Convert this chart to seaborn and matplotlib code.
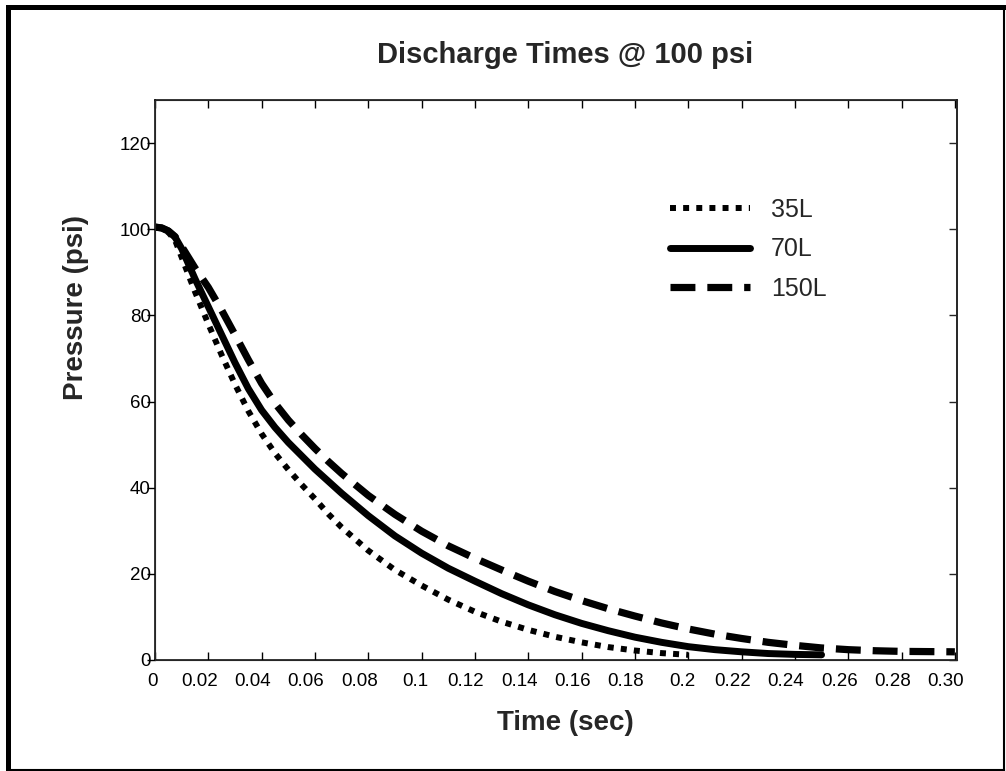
import matplotlib
matplotlib.use("Agg")
import matplotlib.pyplot as plt
from matplotlib.lines import Line2D
from matplotlib.transforms import ScaledTranslation
import pandas as pd
import seaborn as sns

# discharge curves (time in sec, pressure in psi)
t_35 = [0, 0.0025, 0.005, 0.0075, 0.01, 0.015, 0.02, 0.025, 0.03, 0.035, 0.04,
        0.045, 0.05, 0.055, 0.06, 0.065, 0.07, 0.08, 0.09, 0.10, 0.11, 0.12,
        0.13, 0.14, 0.15, 0.16, 0.17, 0.18, 0.19, 0.20]
p_35 = [100.5, 100.2, 99.3, 97.5, 93.5, 85.5, 78, 70.8, 64, 57.8, 52.5,
        48, 44.2, 40.7, 37.4, 33.9, 30.8, 25.4, 20.9, 17.3, 14.0, 11.2,
        8.9, 7.0, 5.4, 4.1, 3.0, 2.2, 1.6, 1.2]

t_70 = [0, 0.0025, 0.005, 0.0075, 0.01, 0.015, 0.02, 0.025, 0.03, 0.035, 0.04,
        0.045, 0.05, 0.055, 0.06, 0.065, 0.07, 0.08, 0.09, 0.10, 0.11, 0.12,
        0.13, 0.14, 0.15, 0.16, 0.17, 0.18, 0.19, 0.20, 0.21, 0.22, 0.23,
        0.24, 0.25]
p_70 = [100.5, 100.3, 99.6, 98.2, 95.5, 88.5, 82, 75.5, 69, 63, 58,
        54, 50.5, 47.4, 44.3, 41.5, 38.7, 33.5, 28.8, 24.8, 21.3, 18.3,
        15.4, 12.8, 10.5, 8.5, 6.8, 5.3, 4.1, 3.1, 2.4, 1.9, 1.5,
        1.3, 1.2]

t_150 = [0, 0.0025, 0.005, 0.0075, 0.01, 0.015, 0.02, 0.025, 0.03, 0.035, 0.04,
         0.045, 0.05, 0.055, 0.06, 0.065, 0.07, 0.08, 0.09, 0.10, 0.11, 0.12,
         0.13, 0.14, 0.15, 0.16, 0.17, 0.18, 0.19, 0.20, 0.21, 0.22, 0.23,
         0.24, 0.25, 0.26, 0.27, 0.28, 0.29, 0.30]
p_150 = [100.5, 100.3, 99.6, 98.3, 96, 91, 86.5, 81.2, 75.5, 69.7, 64.2,
         59.6, 55.7, 52.3, 49.1, 46.1, 43.3, 38.2, 33.8, 29.9, 26.5, 23.6,
         20.9, 18.3, 15.9, 13.8, 11.9, 10.2, 8.6, 7.2, 6.0, 5.0, 4.1,
         3.4, 2.8, 2.4, 2.15, 2.0, 1.95, 1.9]

x_ticks = [0, 0.02, 0.04, 0.06, 0.08, 0.10, 0.12, 0.14, 0.16, 0.18, 0.20,
           0.22, 0.24, 0.26, 0.28, 0.30]
x_labels = ["0", "0.02", "0.04", "0.06", "0.08", "0.1", "0.12", "0.14", "0.16",
            "0.18", "0.2", "0.22", "0.24", "0.26", "0.28", "0.30"]
y_ticks = [0, 20, 40, 60, 80, 100, 120]

sns.set_style("ticks")
plt.rcParams["font.family"] = ["Liberation Sans", "DejaVu Sans"]

W, H = 1006, 771
fig = plt.figure(figsize=(W / 100, H / 100), dpi=100)
ax = fig.add_axes([155 / W, 1 - 660 / H, (957 - 155) / W, (660 - 100) / H])

series = [
    ("35L", t_35, p_35, 4.3, (0, (1.0, 1.2))),
    ("70L", t_70, p_70, 5.0, "-"),
    ("150L", t_150, p_150, 5.2, (0, (3.45, 1.65))),
]
for name, t, p, lw, ls in series:
    df = pd.DataFrame({"time": t, "pressure": p})
    sns.lineplot(data=df, x="time", y="pressure", ax=ax, color="black",
                 linewidth=lw, linestyle=ls, label=name, sort=False)

ax.set_xlim(0, 0.3008)
ax.set_ylim(0, 130)
ax.set_xticks(x_ticks)
ax.set_xticklabels(x_labels)
ax.set_yticks(y_ticks)
ax.set_xlabel("")
ax.set_ylabel("")

for s in ax.spines.values():
    s.set_linewidth(1.1)
    s.set_color("black")
    s.set_visible(True)

ax.tick_params(axis="x", which="both", direction="in", length=6, width=1,
               top=True, labelsize=13.5, pad=9, colors="black")
ax.tick_params(axis="y", which="both", direction="out", length=6, width=1,
               left=True, right=False, labelsize=13.5, pad=-3, colors="black")
# the x labels sit a little left of their ticks in the original
for lab in ax.get_xticklabels():
    dx = {1: -2, 3: -6}.get(len(lab.get_text()), -9)
    shift = ScaledTranslation(dx / 100, 0, fig.dpi_scale_trans)
    lab.set_transform(lab.get_transform() + shift)

# inward ticks on the right edge
ax2 = ax.twinx()
ax2.set_ylim(ax.get_ylim())
ax2.set_yticks(y_ticks)
ax2.tick_params(axis="y", direction="in", length=6, width=1, labelright=False)
ax2.spines["right"].set_linewidth(1.1)

ax.legend(loc="upper left", bbox_to_anchor=(0.642, 0.825), frameon=False,
          fontsize=18, handlelength=3.2, handletextpad=0.84,
          labelspacing=0.62, borderpad=0, borderaxespad=0)

fig.text(565 / W, 1 - 55 / H, "Discharge Times @ 100 psi", ha="center",
         va="center", fontsize=21, fontweight="bold")
fig.text(565 / W, 1 - 723 / H, "Time (sec)", ha="center", va="center",
         fontsize=20, fontweight="bold")
fig.text(76 / W, 1 - 308 / H, "Pressure (psi)", ha="center", va="center",
         rotation=90, fontsize=20, fontweight="bold")

# outer frame round the figure
def px_line(x0, y0, x1, y1, lw):
    fig.add_artist(Line2D([x0 / W, x1 / W], [1 - y0 / H, 1 - y1 / H],
                          transform=fig.transFigure, color="black", lw=lw,
                          solid_capstyle="projecting"))

px_line(7.5, 6.5, 7.5, 770, 3.6)
px_line(7.5, 6.5, 1004, 6.5, 3.6)
px_line(1004, 6.5, 1004, 770, 1.5)
px_line(7.5, 769.5, 1004, 769.5, 1.5)

fig.savefig("out.png", dpi=100)
